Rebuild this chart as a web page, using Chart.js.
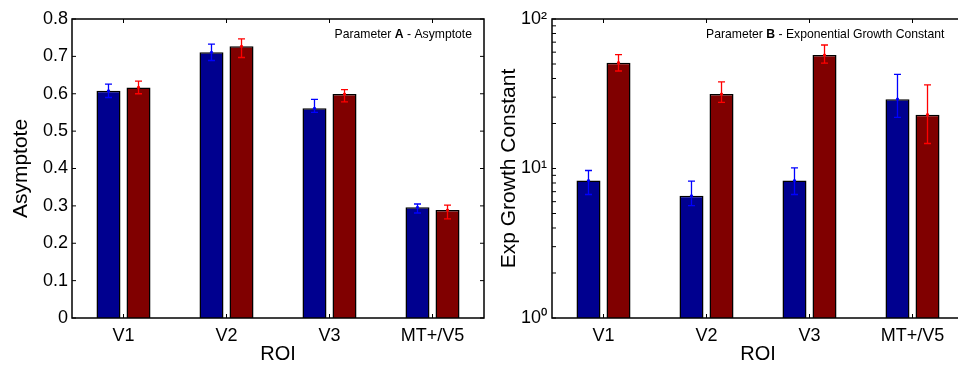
<!DOCTYPE html>
<html>
<head>
<meta charset="utf-8">
<script src="https://cdn.jsdelivr.net/npm/chart.js@4"></script>
<style>
html, body { margin: 0; padding: 0; background: #fff; overflow: hidden; }
canvas { position: absolute; top: 0; }
#left { left: 0; }
#right { left: 480px; }
</style>
</head>
<body>
<canvas id="left" width="490" height="365"></canvas>
<canvas id="right" width="490" height="365"></canvas>
<script>
var rois = ['V1', 'V2', 'V3', 'MT+/V5'];

// parameter A - asymptote
var asymBlue   = [0.608, 0.711, 0.561, 0.296];
var asymBlueLo = [0.590, 0.689, 0.550, 0.281];
var asymBlueHi = [0.626, 0.733, 0.585, 0.305];
var asymRed    = [0.617, 0.727, 0.599, 0.289];
var asymRedLo  = [0.600, 0.697, 0.578, 0.265];
var asymRedHi  = [0.634, 0.747, 0.611, 0.302];

// parameter B - exponential growth constant
var growthBlue   = [8.3, 6.56, 8.3, 29.1];
var growthBlueLo = [6.7, 5.65, 6.7, 22.0];
var growthBlueHi = [9.7, 8.23, 10.1, 42.6];
var growthRed    = [51.0, 31.5, 57.4, 22.9];
var growthRedLo  = [44.9, 27.7, 50.7, 14.7];
var growthRedHi  = [57.7, 38.0, 67.0, 36.3];

var growthTicks = [1, 10, 100];
var growthTickLabels = ['10\u2070', '10\u00b9', '10\u00b2'];

var barBlue = 'rgb(0,0,143)';
var barRed = 'rgb(128,0,0)';

Chart.defaults.font.family = "'Liberation Sans', Arial, sans-serif";
Chart.defaults.color = '#000';

// error bars with a dot at the mean
var errorBars = {
    id: 'errorBars',
    afterDatasetsDraw: function(chart) {
        var ctx = chart.ctx;
        var y = chart.scales.y;
        chart.data.datasets.forEach(function(ds, di) {
            var meta = chart.getDatasetMeta(di);
            ctx.save();
            ctx.strokeStyle = ds.errColor;
            ctx.fillStyle = ds.errColor;
            ctx.lineWidth = 1.3;
            meta.data.forEach(function(bar, i) {
                var x = bar.x;
                var top = y.getPixelForValue(ds.errHi[i]);
                var bot = y.getPixelForValue(ds.errLo[i]);
                ctx.beginPath();
                ctx.moveTo(x, top); ctx.lineTo(x, bot);
                ctx.moveTo(x - 3.5, top); ctx.lineTo(x + 3.5, top);
                ctx.moveTo(x - 3.5, bot); ctx.lineTo(x + 3.5, bot);
                ctx.stroke();
                ctx.beginPath();
                ctx.arc(x, y.getPixelForValue(ds.data[i]), 1.6, 0, Math.PI * 2);
                ctx.fill();
            });
            ctx.restore();
        });
    }
};

// box round the axes, ticks pointing inwards
var frame = {
    id: 'frame',
    afterDatasetsDraw: function(chart, args, opts) {
        var ctx = chart.ctx, a = chart.chartArea;
        var xs = chart.scales.x, ys = chart.scales.y;
        ctx.save();
        ctx.strokeStyle = '#000';
        ctx.lineWidth = 1;
        ctx.beginPath();
        xs.ticks.forEach(function(t, i) {
            var px = xs.getPixelForTick(i);
            ctx.moveTo(px, a.bottom); ctx.lineTo(px, a.bottom - 4);
            ctx.moveTo(px, a.top); ctx.lineTo(px, a.top + 4);
        });
        var marks = opts.marks || ys.ticks.map(function(t) { return t.value; });
        marks.forEach(function(v) {
            var py = ys.getPixelForValue(v);
            ctx.moveTo(a.left, py); ctx.lineTo(a.left + 4, py);
            ctx.moveTo(a.right, py); ctx.lineTo(a.right - 4, py);
        });
        ctx.stroke();
        ctx.lineWidth = 1.5;
        ctx.strokeRect(a.left, a.top, a.right - a.left, a.bottom - a.top);
        ctx.restore();
    }
};

// "Parameter X - ..." label inside the axes
var caption = {
    id: 'caption',
    afterDraw: function(chart, args, opts) {
        var ctx = chart.ctx, a = chart.chartArea;
        ctx.save();
        ctx.fillStyle = '#000';
        ctx.textBaseline = 'alphabetic';
        var widths = opts.parts.map(function(p) {
            ctx.font = (p[1] ? 'bold ' : '') + '12.2px ' + Chart.defaults.font.family;
            return ctx.measureText(p[0]).width;
        });
        var total = widths.reduce(function(s, w) { return s + w; }, 0);
        var x = opts.align === 'right' ? a.right - opts.dx - total : a.left + opts.dx;
        var yb = a.top + opts.dy;
        opts.parts.forEach(function(p, i) {
            ctx.font = (p[1] ? 'bold ' : '') + '12.2px ' + Chart.defaults.font.family;
            ctx.fillText(p[0], x, yb);
            x += widths[i];
        });
        ctx.restore();
    }
};

function dataset(label, data, lo, hi, fill, err) {
    return {
        label: label,
        data: data,
        errLo: lo,
        errHi: hi,
        errColor: err,
        backgroundColor: fill,
        borderColor: '#000',
        borderWidth: 1.5,
        categoryPercentage: 0.583,
        barPercentage: 0.8
    };
}

function xAxis() {
    return {
        grid: { display: false, drawTicks: false },
        border: { display: false },
        ticks: { font: { size: 18 }, padding: 7, maxRotation: 0, autoSkip: false },
        title: { display: true, text: 'ROI', font: { size: 20, lineHeight: 1 }, padding: { top: 0, bottom: 1 } },
        afterFit: function(s) { s.height = 47; }
    };
}

new Chart(document.getElementById('left'), {
    type: 'bar',
    data: {
        labels: rois,
        datasets: [
            dataset('Blue', asymBlue, asymBlueLo, asymBlueHi, barBlue, 'rgb(0,0,255)'),
            dataset('Red', asymRed, asymRedLo, asymRedHi, barRed, 'rgb(255,0,0)')
        ]
    },
    options: {
        responsive: false,
        animation: false,
        layout: { padding: { top: 19, right: 6, bottom: 0, left: 0 } },
        plugins: {
            legend: { display: false },
            tooltip: { enabled: false },
            caption: { parts: [['Parameter ', false], ['A', true], [' - Asymptote', false]], align: 'right', dx: 12, dy: 18.5 }
        },
        scales: {
            x: xAxis(),
            y: {
                min: 0, max: 0.8,
                grid: { display: false, drawTicks: false },
                border: { display: false },
                ticks: { stepSize: 0.1, font: { size: 18 }, padding: 4 },
                title: { display: true, text: 'Asymptote', font: { size: 21, lineHeight: 1.2 }, padding: { top: 9, bottom: 0 } },
                afterFit: function(s) { s.width = 72; }
            }
        }
    },
    plugins: [errorBars, frame, caption]
});

var minorMarks = [];
[1, 10].forEach(function(dec) {
    for (var k = 1; k < 10; k++) minorMarks.push(k * dec);
});
minorMarks.push(100);

new Chart(document.getElementById('right'), {
    type: 'bar',
    data: {
        labels: rois,
        datasets: [
            dataset('Blue', growthBlue, growthBlueLo, growthBlueHi, barBlue, 'rgb(0,0,255)'),
            dataset('Red', growthRed, growthRedLo, growthRedHi, barRed, 'rgb(255,0,0)')
        ]
    },
    options: {
        responsive: false,
        animation: false,
        layout: { padding: { top: 19, right: 6, bottom: 0, left: 0 } },
        plugins: {
            legend: { display: false },
            tooltip: { enabled: false },
            frame: { marks: minorMarks },
            caption: { parts: [['Parameter ', false], ['B', true], [' - Exponential Growth Constant', false]], align: 'left', dx: 154, dy: 18.5 }
        },
        scales: {
            x: xAxis(),
            y: {
                type: 'logarithmic',
                min: 1, max: 100,
                grid: { display: false, drawTicks: false },
                border: { display: false },
                afterBuildTicks: function(s) {
                    s.ticks = growthTicks.map(function(v) { return { value: v }; });
                },
                ticks: {
                    font: { size: 18 }, padding: 5,
                    callback: function(v) { return growthTickLabels[growthTicks.indexOf(v)]; }
                },
                title: { display: true, text: 'Exp Growth Constant', font: { size: 21, lineHeight: 1.2 }, padding: { top: 17, bottom: 0 } },
                afterFit: function(s) { s.width = 72; }
            }
        }
    },
    plugins: [errorBars, frame, caption]
});
</script>
</body>
</html>
